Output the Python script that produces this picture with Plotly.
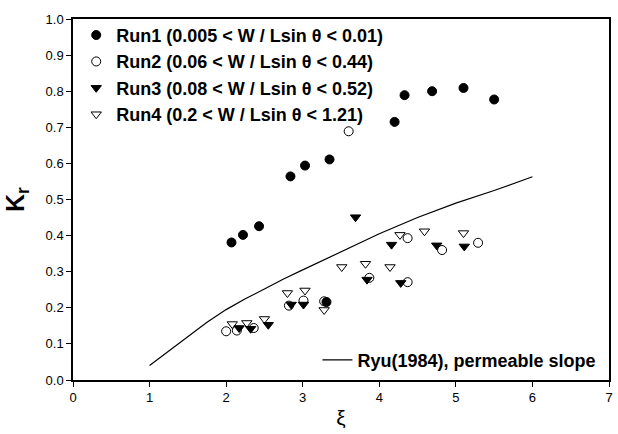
import plotly.graph_objects as go

run1_x = [2.07, 2.22, 2.43, 2.84, 3.03, 3.35, 3.31, 4.20, 4.33, 4.69, 5.10, 5.50]
run1_y = [0.381, 0.402, 0.426, 0.564, 0.594, 0.611, 0.216, 0.715, 0.789, 0.800, 0.809, 0.777]

run2_x = [2.00, 2.14, 2.36, 2.82, 3.01, 3.28, 3.60, 3.87, 4.37, 4.37, 4.82, 5.29]
run2_y = [0.135, 0.137, 0.144, 0.206, 0.220, 0.218, 0.689, 0.283, 0.271, 0.393, 0.360, 0.380]

run3_x = [2.17, 2.32, 2.55, 2.85, 3.01, 3.69, 3.84, 4.16, 4.28, 4.75, 5.11]
run3_y = [0.144, 0.142, 0.153, 0.209, 0.209, 0.451, 0.278, 0.375, 0.269, 0.373, 0.370]

run4_x = [2.08, 2.27, 2.50, 2.80, 3.03, 3.28, 3.51, 3.82, 4.14, 4.27, 4.59, 5.10]
run4_y = [0.155, 0.158, 0.169, 0.241, 0.248, 0.194, 0.313, 0.322, 0.313, 0.402, 0.412, 0.407]

ryu_x = [1.0, 1.25, 1.5, 1.75, 2.0, 2.25, 2.5, 2.75, 3.0, 3.5, 4.0, 4.5, 5.0, 5.5, 6.0]
ryu_y = [0.04, 0.08, 0.12, 0.16, 0.195, 0.225, 0.252, 0.28, 0.305, 0.355, 0.405, 0.45, 0.49, 0.525, 0.563]

names = [
    "Run1 (0.005 < W / Lsin \u03b8 < 0.01)",
    "Run2 (0.06 < W / Lsin \u03b8 < 0.44)",
    "Run3 (0.08 < W / Lsin \u03b8 < 0.52)",
    "Run4 (0.2 < W / Lsin \u03b8 < 1.21)",
]
ryu_name = "Ryu(1984), permeable slope"

FONT = "Liberation Sans, Arial, sans-serif"

fig = go.Figure()

fig.add_trace(go.Scatter(x=ryu_x, y=ryu_y, mode="lines", name=ryu_name,
                         line=dict(color="black", width=1.2), legend="legend2"))

specs = [
    (run1_x, run1_y, "circle"),
    (run2_x, run2_y, "circle-open"),
    (run3_x, run3_y, "triangle-down"),
    (run4_x, run4_y, "triangle-down-open"),
]
for i, (xs, ys, sym) in enumerate(specs):
    fig.add_trace(go.Scatter(
        x=xs, y=ys, mode="markers", name=names[i], legendgroup="g%d" % i,
        marker=dict(symbol=sym, size=9, color="black", line=dict(color="black", width=1)),
    ))

fig.update_layout(
    width=618, height=434,
    margin=dict(l=73, r=5, t=19, b=54),
    paper_bgcolor="white", plot_bgcolor="white",
    font=dict(family=FONT, size=12, color="black"),
    showlegend=True,
    legend=dict(x=0.006, y=1.006, xanchor="left", yanchor="top",
                bgcolor="rgba(0,0,0,0)", font=dict(size=18, family=FONT, weight="bold"),
                tracegroupgap=0, traceorder="grouped"),
    legend2=dict(x=0.456, y=0.055, xanchor="left", yanchor="middle",
                 bgcolor="rgba(0,0,0,0)", font=dict(size=18, family=FONT, weight="bold")),
    xaxis=dict(range=[0, 7], tickmode="array", tickvals=[0, 1, 2, 3, 4, 5, 6, 7],
               ticks="outside", ticklen=5, tickcolor="black", showgrid=False, zeroline=False,
               showline=True, linecolor="black", linewidth=1.5, mirror=True,
               tickfont=dict(size=13),
               title=dict(text="\u03be", font=dict(size=21, family=FONT), standoff=6)),
    yaxis=dict(range=[0, 1.0], tickmode="array",
               tickvals=[0, 0.1, 0.2, 0.3, 0.4, 0.5, 0.6, 0.7, 0.8, 0.9, 1.0],
               ticktext=["0.0", "0.1", "0.2", "0.3", "0.4", "0.5", "0.6", "0.7", "0.8", "0.9", "1.0"],
               ticks="outside", ticklen=5, tickcolor="black", showgrid=False, zeroline=False,
               showline=True, linecolor="black", linewidth=1.5, mirror=True,
               tickfont=dict(size=13),
               title=dict(text="<b>K<sub>r</sub></b>", font=dict(size=25, family=FONT), standoff=14)),
)

fig.write_html("out.html")
